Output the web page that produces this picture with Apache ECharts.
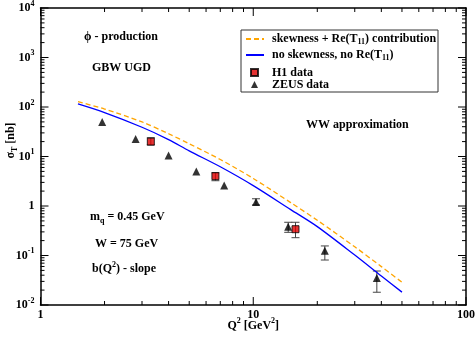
<!DOCTYPE html>
<html><head><meta charset="utf-8">
<script src="https://cdn.jsdelivr.net/npm/echarts@6/dist/echarts.min.js"></script>
<style>html,body{margin:0;padding:0;background:#fff}#c{width:476px;height:338px}</style>
</head><body><div id="c"></div>
<script>
// ---- data ----
const curveQ2 = [1.5, 2, 3, 4, 5, 7, 10, 15, 20, 30, 40, 50];
const skewCurve = [128, 91, 50, 28.8, 18.1, 8.7, 3.6, 1.17, 0.515, 0.150, 0.0596, 0.0288];
const noSkewCurve = [115, 77, 39, 22, 13, 6.2, 2.58, 0.845, 0.383, 0.102, 0.0385, 0.0182];

const h1Q2 = [3.3, 6.64, 15.8];
const h1Sigma = [20, 4.0, 0.34];
const h1Low = [17.1, 3.24, 0.229];
const h1High = [24, 4.71, 0.469];

const zeusQ2 = [1.95, 2.8, 4.0, 5.4, 7.3, 10.3, 14.6, 21.7, 38.1];
const zeusSigma = [50, 22.5, 10.5, 5.0, 2.6, 1.2, 0.38, 0.125, 0.035];
const zeusLow = [null, null, null, null, null, 1.05, 0.294, 0.081, 0.0181];
const zeusHigh = [null, null, null, null, null, 1.40, 0.469, 0.156, 0.0486];

const xTicks = [1, 10, 100];
const yTicks = [0.01, 0.1, 1, 10, 100, 1000, 10000];
const minorSteps = [2, 3, 4, 5, 6, 7, 8, 9];

// ---- chart ----
const FONT = 'Liberation Serif';
const chart = echarts.init(document.getElementById('c'), null, {renderer: 'canvas'});
const xMin = xTicks[0], xMax = xTicks[xTicks.length - 1];
const yMin = yTicks[0], yMax = yTicks[yTicks.length - 1];
const lg = v => Math.log(v) / Math.LN10;

function errData(xs, ys, lo, hi) {
  const out = [];
  xs.forEach((q, i) => { if (lo[i] != null) out.push([q, ys[i], lo[i], hi[i]]); });
  return out;
}
function seg(x1, y1, x2, y2, color) {
  return {type: 'line', shape: {x1: x1, y1: y1, x2: x2, y2: y2}, style: {stroke: color, lineWidth: 1}};
}
function errRender(params, api) {
  const x = api.value(0), lo = api.value(2), hi = api.value(3);
  const p1 = api.coord([x, lo]), p2 = api.coord([x, hi]);
  const w = 4;
  return {type: 'group', children: [
    seg(p1[0], p1[1], p2[0], p2[1], '#444'),
    seg(p1[0] - w, p1[1], p1[0] + w, p1[1], '#444'),
    seg(p2[0] - w, p2[1], p2[0] + w, p2[1], '#444')
  ]};
}

// tick positions: decades (major) and 2..9 within each decade (minor)
function tickValues(decades) {
  const out = [];
  decades.forEach((d, i) => {
    out.push(d);
    if (i < decades.length - 1) minorSteps.forEach(m => out.push(d * m));
  });
  return out;
}
function isMajor(v) { const l = lg(v); return Math.abs(l - Math.round(l)) < 1e-6; }

// ticks drawn by a custom series; scale anchored on two interior points via api.coord
const ANCHOR_A = 3, ANCHOR_B = 30;
const tickData = tickValues(xTicks).map(v => [ANCHOR_A, ANCHOR_A, v, 0])
  .concat(tickValues(yTicks).map(v => [ANCHOR_A, ANCHOR_A, v, 1]));
function tickRender(params, api) {
  const v = api.value(2), kind = api.value(3), len = isMajor(v) ? 8 : 4;
  const a = api.coord([ANCHOR_A, ANCHOR_A]), b = api.coord([ANCHOR_B, ANCHOR_B]);
  const decX = b[0] - a[0], decY = b[1] - a[1];
  const fx = t => a[0] + (lg(t) - lg(ANCHOR_A)) * decX;
  const fy = t => a[1] + (lg(t) - lg(ANCHOR_A)) * decY;
  if (kind === 0) {
    const x = fx(v), bottom = fy(yMin), top = fy(yMax);
    return {type: 'group', children: [
      seg(x, bottom, x, bottom - len, '#000'),
      seg(x, top, x, top + len, '#000')
    ]};
  }
  const y = fy(v), left = fx(xMin), right = fx(xMax);
  return {type: 'group', children: [
    seg(left, y, left + len, y, '#000'),
    seg(right, y, right - len, y, '#000')
  ]};
}

const supRich = {
  b: {fontFamily: FONT, fontWeight: 'bold', fontSize: 12, color: '#000'},
  s: {fontFamily: FONT, fontWeight: 'bold', fontSize: 8, color: '#000', padding: [0, 0, 9, 0]},
  d: {fontFamily: FONT, fontWeight: 'bold', fontSize: 8, color: '#000', padding: [7, 0, 0, 0]},
  p: {width: 32}
};
const legRichA = {
  b: {fontFamily: FONT, fontWeight: 'bold', fontSize: 12, color: '#000'},
  d: {fontFamily: FONT, fontWeight: 'bold', fontSize: 8, color: '#000', padding: [6, 0, 0, 0]}
};
const legRichB = {
  b: {fontFamily: FONT, fontWeight: 'bold', fontSize: 12, color: '#000', lineHeight: 11}
};

const axisCommon = {
  type: 'log', logBase: 10,
  axisLine: {show: true, lineStyle: {color: '#000', width: 1.5}},
  axisTick: {show: false},
  minorTick: {show: false},
  splitLine: {show: false}, minorSplitLine: {show: false}
};

const names = {
  skew: '{b|skewness + Re(T}{d|11}{b|) contribution}',
  noskew: '{b|no skewness, no Re(T}{d|11}{b|)}',
  h1: '{b|H1 data}',
  zeus: '{b|ZEUS data}'
};

function lbl(x, y, text) {
  return {type: 'text', x: x, y: y, z: 10, style: {text: text, rich: supRich, align: 'left', verticalAlign: 'middle',
    fontFamily: FONT, fontWeight: 'bold', fontSize: 12, fill: '#000'}};
}

chart.setOption({
  animation: false,
  backgroundColor: '#fff',
  grid: {left: 40.5, right: 10, top: 8, bottom: 33, outerBoundsMode: 'none', containLabel: false},
  xAxis: [
    Object.assign({}, axisCommon, {
      position: 'bottom', min: xMin, max: xMax, interval: 1,
      axisLabel: {margin: 4, fontFamily: FONT, fontWeight: 'bold', fontSize: 12, color: '#000',
        formatter: v => String(v)},
      name: '{b|Q}{s|2}{b| [GeV}{s|2}{b|]}', nameLocation: 'middle', nameGap: 12, nameMoveOverlap: false,
      nameTextStyle: {rich: supRich}
    }),
    Object.assign({}, axisCommon, {
      position: 'top', min: xMin, max: xMax, interval: 1,
      axisLabel: {show: false}
    })
  ],
  yAxis: [
    Object.assign({}, axisCommon, {
      position: 'left', min: yMin, max: yMax, interval: 1,
      axisLabel: {margin: 6, rich: supRich, formatter: v => {
        const e = Math.round(lg(v));
        return e === 0 ? '{b|1}' : '{b|10}{s|' + e + '}';
      }},
      name: '{p|}{b|σ}{d|T}{b| [nb]}', nameLocation: 'middle', nameGap: 22, nameMoveOverlap: false,
      nameTextStyle: {rich: supRich}
    }),
    Object.assign({}, axisCommon, {
      position: 'right', min: yMin, max: yMax, interval: 1,
      axisLabel: {show: false}
    })
  ],
  legend: [
    {
      left: 240, top: 30, orient: 'vertical', padding: [3, 6, 0, 5], itemGap: 3,
      itemWidth: 18, itemHeight: 7,
      data: [
        {name: names.skew, itemStyle: {opacity: 0}},
        {name: names.noskew, itemStyle: {opacity: 0}}
      ],
      textStyle: {rich: legRichA, padding: [0, 0, 0, 3]}
    },
    {
      left: 250, top: 66.5, orient: 'vertical', padding: 0, itemGap: 0,
      itemWidth: 7, itemHeight: 7,
      data: [names.h1, names.zeus],
      textStyle: {rich: legRichB, padding: [0, 0, 0, 9]}
    }
  ],
  graphic: [
    {type: 'rect', shape: {x: 241, y: 30, width: 197, height: 62}, z: -1,
      style: {fill: '#fff', stroke: '#333', lineWidth: 1}},
    lbl(84, 37, '{b|ϕ - production}'),
    lbl(92, 68, '{b|GBW UGD}'),
    lbl(306, 125, '{b|WW approximation}'),
    lbl(90, 217, '{b|m}{d|q}{b| = 0.45 GeV}'),
    lbl(95, 244, '{b|W = 75 GeV}'),
    lbl(92, 269, '{b|b(Q}{s|2}{b|) - slope}')
  ],
  series: [
    {type: 'custom', renderItem: tickRender, data: tickData, encode: {x: 0, y: 1}, z: 6, silent: true},
    {name: names.skew, type: 'line', data: curveQ2.map((q, i) => [q, skewCurve[i]]),
      showSymbol: false, symbol: 'none', smooth: 0.3,
      lineStyle: {color: '#ffa500', width: 1.3, type: [5, 3]}, itemStyle: {color: '#ffa500'}},
    {name: names.noskew, type: 'line', data: curveQ2.map((q, i) => [q, noSkewCurve[i]]),
      showSymbol: false, symbol: 'none', smooth: 0.3,
      lineStyle: {color: '#0000ff', width: 1.3}, itemStyle: {color: '#0000ff'}},
    {type: 'custom', renderItem: errRender, data: errData(h1Q2, h1Sigma, h1Low, h1High),
      encode: {x: 0, y: 1}, z: 3, silent: true},
    {type: 'custom', renderItem: errRender, data: errData(zeusQ2, zeusSigma, zeusLow, zeusHigh),
      encode: {x: 0, y: 1}, z: 3, silent: true},
    {name: names.h1, type: 'scatter', data: h1Q2.map((q, i) => [q, h1Sigma[i]]),
      symbol: 'rect', symbolSize: 7, z: 5,
      itemStyle: {color: '#e00000', borderColor: '#000', borderWidth: 1}},
    {name: names.zeus, type: 'scatter', data: zeusQ2.map((q, i) => [q, zeusSigma[i]]),
      symbol: 'triangle', symbolSize: 8, z: 5,
      itemStyle: {color: '#000'}}
  ]
});
</script>
</body></html>
